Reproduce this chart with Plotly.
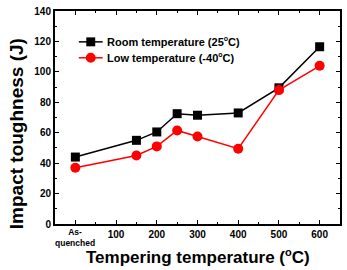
import plotly.graph_objects as go

# Data
temps = [0, 150, 200, 250, 300, 400, 500, 600]
room_vals = [44, 55, 60.5, 72.5, 71.5, 73, 89.5, 116.5]
low_vals = [37, 45, 51, 61.5, 57.5, 49.5, 88, 104]
tick_vals = [0, 100, 200, 300, 400, 500, 600]
tick_text = ["", "100", "200", "300", "400", "500", "600"]
room_name = "Room temperature (25<sup><span style='font-size:7px'>o</span></sup>C)"
low_name = "Low temperature (-40<sup><span style='font-size:7px'>o</span></sup>C)"

FONT = "Liberation Sans, Arial, sans-serif"
W, H = 347, 270
ml, mr, mt, mb = 55, 5, 10, 46
pw, ph = W - ml - mr, H - mt - mb

def px(x):
    return (x - ml) / pw

def py(y):
    return (H - mb - y) / ph

fig = go.Figure()
fig.add_trace(go.Scatter(
    x=temps, y=room_vals, name="Room temperature (25°C)", mode="lines+markers",
    line=dict(color="black", width=1.5),
    marker=dict(symbol="square", size=9, color="black"),
))
fig.add_trace(go.Scatter(
    x=temps, y=low_vals, name="Low temperature (-40°C)", mode="lines+markers",
    line=dict(color="#ff0000", width=1.5),
    marker=dict(symbol="circle", size=10, color="#ff0000"),
))

axis_common = dict(
    showline=True, linecolor="black", linewidth=2, mirror="allticks",
    ticks="inside", ticklen=4, tickwidth=1.3, tickcolor="black",
    showgrid=False, zeroline=False,
    tickfont=dict(family=FONT, size=10, color="black", weight="bold"),
)

fig.update_xaxes(
    range=[-50, 650], tickmode="array", tickvals=tick_vals, ticktext=tick_text,
    minor=dict(ticks="inside", ticklen=2, dtick=50, tick0=0, tickcolor="black", tickwidth=1.3),
    **axis_common,
)
fig.update_yaxes(
    range=[0, 140], dtick=20, tick0=0,
    minor=dict(ticks="inside", ticklen=2, dtick=10, tickcolor="black", tickwidth=1.3),
    **axis_common,
)

# Manual legend (positions in pixels)
leg_items = [(41, "black", "square", room_name), (57, "#ff0000", "circle", low_name)]
shapes = []
annotations = []
for yy, col, sym, name in leg_items:
    shapes.append(dict(type="line", xref="paper", yref="paper",
                       x0=px(79), x1=px(103), y0=py(yy), y1=py(yy),
                       line=dict(color=col, width=1.5)))
    r = 4.5 if sym == "square" else 5
    shapes.append(dict(type="rect" if sym == "square" else "circle",
                       xref="paper", yref="paper",
                       x0=px(91 - r), x1=px(91 + r), y0=py(yy + r), y1=py(yy - r),
                       fillcolor=col, line=dict(color=col, width=0)))
    annotations.append(dict(text=name, x=px(105), xref="paper", y=py(yy), yref="paper",
                            showarrow=False, xanchor="left", yanchor="middle",
                            font=dict(family=FONT, size=11, color="black", weight="bold")))

annotations += [
    dict(text="As-<br>quenched", x=0, xref="x", y=py(237.5), yref="paper",
         showarrow=False, xanchor="center", yanchor="middle",
         font=dict(family=FONT, size=8.5, color="black", weight="bold")),
    dict(text="Tempering temperature (<sup><span style='font-size:11px'>o</span></sup>C)",
         x=px(199), xref="paper",
         y=py(257), yref="paper", showarrow=False, xanchor="center", yanchor="middle",
         font=dict(family=FONT, size=17, color="black", weight="bold")),
    dict(text="Impact toughness (J)", x=px(17), xref="paper", y=py(133.5), yref="paper",
         showarrow=False, xanchor="center", yanchor="middle", textangle=-90,
         font=dict(family=FONT, size=19, color="black", weight="bold")),
]

fig.update_layout(
    width=W, height=H,
    margin=dict(l=ml, r=mr, t=mt, b=mb),
    paper_bgcolor="white", plot_bgcolor="white",
    showlegend=False,
    shapes=shapes,
    annotations=annotations,
)

fig.write_html("out.html")
